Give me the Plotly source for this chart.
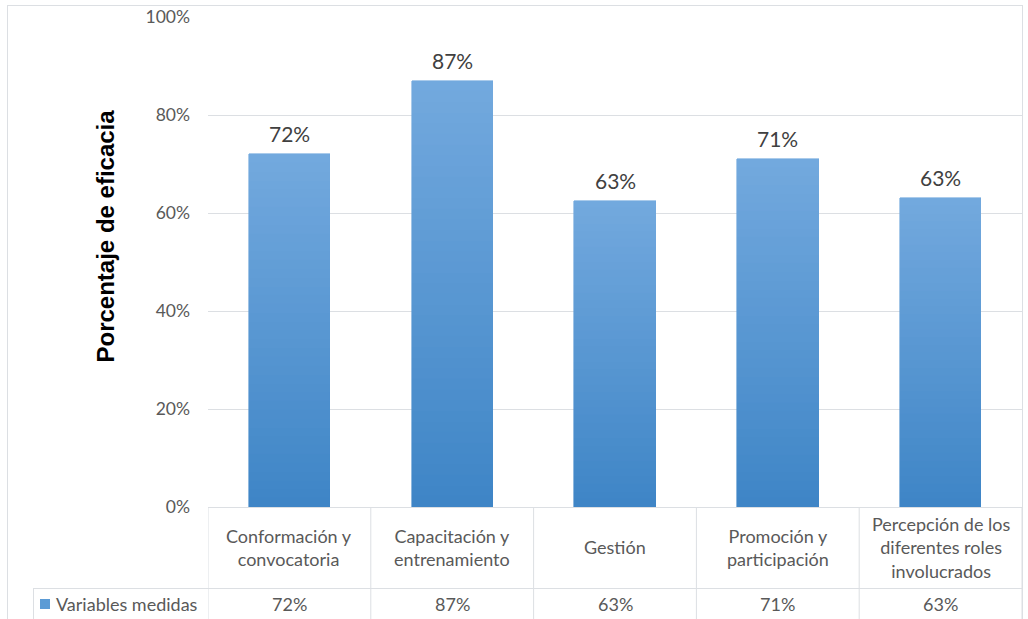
import plotly.graph_objects as go

categories = ["Conformación y<br>convocatoria", "Capacitación y<br>entrenamiento", "Gestión",
              "Promoción y<br>participación", "Percepción de los<br>diferentes roles<br>involucrados"]
values = [0.72, 0.87, 0.625, 0.71, 0.63]
value_labels = ["72%", "87%", "63%", "71%", "63%"]
series_name = "Variables medidas"
y_ticks = [0, 0.2, 0.4, 0.6, 0.8, 1.0]
y_ticktext = ["0%", "20%", "40%", "60%", "80%", "100%"]

FONT = "Lato, 'Liberation Sans', Arial, sans-serif"
GRID = "#DCDFE3"
TXT = "#595959"

W, H = 1028, 619
L, R, T, B = 208, 6, 17, 112
PW, PH = W - L - R, H - T - B

def px(x):
    return (x - L) / PW

def py(y):
    return (H - B - y) / PH

# gradient colours (bottom -> top)
c_bot = (0x3E, 0x85, 0xC6)
c_top = (0x73, 0xA9, 0xDE)
N = 40
fig = go.Figure()
xs = list(range(len(categories)))
for i in range(N):
    t = (i + 0.5) / N
    c = tuple(round(c_bot[k] + (c_top[k] - c_bot[k]) * t) for k in range(3))
    fig.add_trace(go.Bar(
        x=xs, y=[v / N for v in values], width=0.5,
        marker=dict(color="rgb(%d,%d,%d)" % c, line=dict(width=0.6, color="rgb(%d,%d,%d)" % c)),
        showlegend=False, hoverinfo="skip", name=series_name,
    ))

# data labels
for i, (v, lab) in enumerate(zip(values, value_labels)):
    fig.add_annotation(x=i, y=v, xref="x", yref="y", text=lab, showarrow=False,
                       yanchor="bottom", yshift=6, font=dict(family=FONT, size=21, color="#404040"))

# category labels in table header
for i, c in enumerate(categories):
    fig.add_annotation(x=i, y=py(547), xref="x", yref="paper", text=c, showarrow=False,
                       yanchor="middle", font=dict(family=FONT, size=18, color=TXT))
    fig.add_annotation(x=i, y=py(604), xref="x", yref="paper", text=value_labels[i], showarrow=False,
                       yanchor="middle", font=dict(family=FONT, size=18, color=TXT))

# series row label with key
fig.add_annotation(x=px(54), y=py(604), xref="paper", yref="paper", text=series_name, showarrow=False,
                   xanchor="left", yanchor="middle", font=dict(family=FONT, size=18, color=TXT))

shapes = []
def line(x0, y0, x1, y1, color=GRID):
    shapes.append(dict(type="line", xref="paper", yref="paper", x0=px(x0), y0=py(y0), x1=px(x1), y1=py(y1),
                       line=dict(color=color, width=1)))

# outer border
line(7, 5.5, 1023, 5.5)
line(7.5, 5, 7.5, 619)
line(1022.5, 5, 1022.5, 619)
# table lines
for i in range(len(categories) + 1):
    shapes.append(dict(type="line", xref="x", yref="paper", x0=i - 0.5, x1=i - 0.5, y0=py(507), y1=py(619),
                       line=dict(color=GRID, width=1)))
line(33, 588.5, 1022, 588.5)
line(33.5, 588, 33.5, 619)
# legend key
shapes.append(dict(type="rect", xref="paper", yref="paper", x0=px(40), x1=px(50), y0=py(609), y1=py(599),
                   fillcolor="#5B9BD5", line=dict(width=0)))

fig.update_layout(
    width=W, height=H, margin=dict(l=L, r=R, t=T, b=B),
    paper_bgcolor="white", plot_bgcolor="white",
    barmode="stack", bargap=0, showlegend=False,
    shapes=shapes,
    xaxis=dict(range=[-0.5, len(categories) - 0.5], showticklabels=False, showgrid=False,
               zeroline=False, showline=True, linecolor=GRID, linewidth=1, fixedrange=True),
    yaxis=dict(range=[0, 1], tickvals=y_ticks, ticktext=y_ticktext, showgrid=True, gridcolor=GRID,
               gridwidth=1, zeroline=False, showline=False, ticks="", ticklabelstandoff=17,
               tickfont=dict(family=FONT, size=17.5, color=TXT), fixedrange=True),
)

fig.add_annotation(x=px(89), y=py(236), xref="paper", yref="paper", text="<b>Porcentaje de eficacia</b>",
                   textangle=-90, showarrow=False,
                   font=dict(family="'Liberation Sans', Arial, sans-serif", size=24, color="black"))

fig.write_html("out.html", config={"displayModeBar": False},
               post_script="document.body.style.margin='0px';document.body.style.overflow='hidden';")
